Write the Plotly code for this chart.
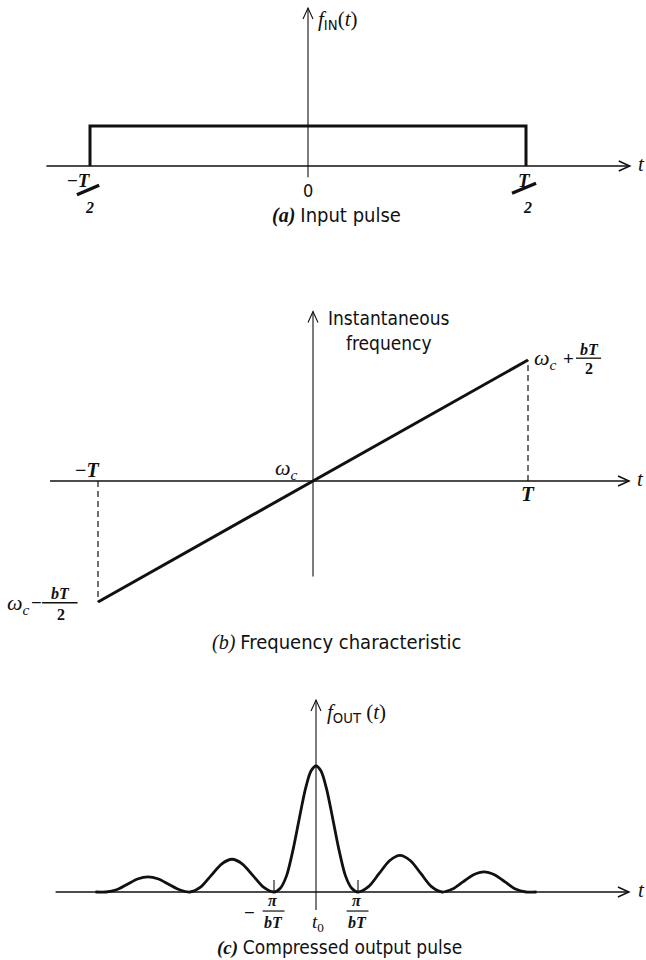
import plotly.graph_objects as go

W, H = 646, 960

# (a) input pulse f_IN(t); t in units of T
pulse_t = [-0.5, -0.5, 0.5, 0.5]
pulse_f = [0.0, 1.0, 1.0, 0.0]

# (b) instantaneous frequency minus w_c (units of bT/2) against t (units of T)
freq_t = [-1.0, 0.0, 1.0]
freq_w = [-1.0, 0.0, 1.0]

# (c) compressed output pulse; (t - t0) in units of pi/(bT), amplitude relative to peak
out_t = [-5.25, -5.0, -4.75, -4.5, -4.25, -4.0, -3.75, -3.5, -3.25, -3.0,
         -2.75, -2.5, -2.25, -2.0, -1.75, -1.5, -1.25, -1.0,
         -0.85, -0.7, -0.55, -0.4, -0.25, -0.12, 0.0, 0.12, 0.25, 0.4, 0.55, 0.7, 0.85,
         1.0, 1.25, 1.5, 1.75, 2.0, 2.25, 2.5, 2.75, 3.0,
         3.25, 3.5, 3.75, 4.0, 4.25, 4.5, 4.75, 5.0, 5.25]
out_f = [0.0, 0.0, 0.018, 0.06, 0.103, 0.12, 0.103, 0.06, 0.018, 0.0,
         0.038, 0.13, 0.222, 0.26, 0.222, 0.13, 0.038, 0.0,
         0.03, 0.13, 0.33, 0.58, 0.82, 0.96, 1.0, 0.96, 0.82, 0.58, 0.33, 0.13, 0.03,
         0.0, 0.042, 0.145, 0.248, 0.29, 0.248, 0.145, 0.042, 0.0,
         0.023, 0.08, 0.137, 0.16, 0.137, 0.08, 0.023, 0.0, 0.0]
zero_ticks = [-1.0, 1.0]

SERIF = "Liberation Serif, Times New Roman, serif"
SANS = "Liberation Sans Narrow, DejaVu Sans Condensed, Liberation Sans, sans-serif"
INK = "#111111"

# pixel scale (origin x, origin y, px per x unit, px per y unit) and vertical band of each panel
PANELS = {
    "": (308, 166, 436, 40, 0, 250),
    "2": (313, 481, 215, 121, 290, 665),
    "3": (316, 892, 42, 126, 680, 960),
}


def frame(ox, oy, sx, sy, top, bottom):
    """Axis ranges/domain so that one data unit spans sx, sy pixels."""
    xr = [(0 - ox) / sx, (W - ox) / sx]
    yr = [(oy - bottom) / sy, (oy - top) / sy]
    dom = [1 - bottom / H, 1 - top / H]
    return xr, yr, dom


xa, ya, da = frame(*PANELS[""])
xb, yb, db = frame(*PANELS["2"])
xc, yc, dc = frame(*PANELS["3"])

fig = go.Figure()
fig.add_trace(go.Scatter(x=pulse_t, y=pulse_f, mode="lines", xaxis="x", yaxis="y",
                         line=dict(color=INK, width=3), hoverinfo="skip"))
fig.add_trace(go.Scatter(x=freq_t, y=freq_w, mode="lines", xaxis="x2", yaxis="y2",
                         line=dict(color=INK, width=3), hoverinfo="skip"))
fig.add_trace(go.Scatter(x=out_t, y=out_f, mode="lines", xaxis="x3", yaxis="y3",
                         line=dict(color=INK, width=2.8, shape="spline", smoothing=0.8),
                         hoverinfo="skip"))

shapes = []
ann = []


def seg(ref, x0, y0, x1, y1, w=1.2, dash="solid"):
    shapes.append(dict(type="line", xref="x" + ref, yref="y" + ref, x0=x0, y0=y0,
                       x1=x1, y1=y1, line=dict(color=INK, width=w, dash=dash)))


def axis_arrow(ref, x0, y0, x1, y1, w=1.3, head=11, spread=5):
    """Axis line with an open V head at (x1, y1)."""
    seg(ref, x0, y0, x1, y1, w=w)
    sx, sy = PANELS[ref][2], PANELS[ref][3]
    if y0 == y1:  # horizontal, pointing right
        a = (x1 - head / sx, y1 + spread / sy)
        b = (x1 - head / sx, y1 - spread / sy)
    else:  # vertical, pointing up
        a = (x1 - spread / sx, y1 - head / sy)
        b = (x1 + spread / sx, y1 - head / sy)
    path = "M %f,%f L %f,%f L %f,%f" % (a[0], a[1], x1, y1, b[0], b[1])
    shapes.append(dict(type="path", xref="x" + ref, yref="y" + ref, path=path,
                       line=dict(color=INK, width=w)))


def label(ref, x, y, text, size=18, family=SERIF, xs=0, ys=0, xanchor="center"):
    ann.append(dict(xref="x" + ref, yref="y" + ref, x=x, y=y, text=text, showarrow=False,
                    xshift=xs, yshift=ys, xanchor=xanchor, yanchor="middle",
                    font=dict(family=family, size=size, color=INK)))


def sans(s):
    return "<span style='font-family:%s'>%s</span>" % (SANS, s)


# ---- (a) input pulse ----
axis_arrow("", -0.60, 0, 0.738, 0, w=1.5)
axis_arrow("", 0, -0.28, 0, 3.95, w=1.1)
label("", 0, 3.65, "<i>f</i><sub>" + sans("IN") + "</sub>(<i>t</i>)", size=21, xs=8, xanchor="left")
label("", 0.764, 0, "<i>t</i>", size=21, ys=2)
label("", 0, 0, sans("0"), size=18, ys=-24)
label("", -0.5, 0, "<b>−<i>T</i></b>", size=19, xs=-11, ys=-14)
seg("", -0.530, -0.72, -0.479, -0.48, w=3.4)
label("", -0.5, 0, "<b><i>2</i></b>", size=16, xs=-1, ys=-41)
label("", 0.5, 0, "<b><i>T</i></b>", size=19, xs=-2, ys=-14)
seg("", 0.468, -0.68, 0.523, -0.43, w=3.4)
label("", 0.5, 0, "<b><i>2</i></b>", size=16, xs=1, ys=-41)
label("", 0.066, 0, "<b><i>(a)</i></b> " + sans("Input pulse"), size=20, ys=-49)

# ---- (b) frequency characteristic ----
axis_arrow("2", -1.223, 0, 1.47, 0, w=1.5)
axis_arrow("2", 0, -0.79, 0, 1.40, w=1.1)
seg("2", -1, 0, -1, -1, w=1.2, dash="6px,4px")
seg("2", 1, 0, 1, 1, w=1.2, dash="6px,4px")
label("2", 1.523, 0, "<i>t</i>", size=21, ys=2)
label("2", 0, 1.24, sans("Instantaneous<br>frequency"), size=19, family=SANS, xs=76)
label("2", -1, 0, "<b>−<i>T</i></b>", size=20, xs=-11, ys=11)
label("2", 0, 0, "<i>ω<sub>c</sub></i>", size=22, xs=-27, ys=12)
label("2", 1, 0, "<b><i>T</i></b>", size=21, ys=-13)
label("2", 1, 1, "<i>ω<sub>c</sub></i>", size=22, xs=17, ys=1)
label("2", 1, 1, "<b>+</b>", size=19, xs=40, ys=1)
label("2", 1, 1, "<b><i>bT</i></b>", size=16, xs=61, ys=10)
seg("2", 1.223, 1.015, 1.340, 1.015, w=1.3)
label("2", 1, 1, "<b>2</b>", size=16, xs=61, ys=-9)
label("2", -1, -1, "<i>ω<sub>c</sub></i>", size=22, xs=-80, ys=-2)
label("2", -1, -1, "<b>−</b>", size=19, xs=-62, ys=0)
label("2", -1, -1, "<b><i>bT</i></b>", size=16, xs=-38, ys=9)
seg("2", -1.260, -1.006, -1.095, -1.006, w=1.3)
label("2", -1, -1, "<b>2</b>", size=16, xs=-37, ys=-12)
label("2", 0.11, 0, "<i>(b)</i> " + sans("Frequency characteristic"), size=20, ys=-161)

# ---- (c) compressed output pulse ----
axis_arrow("3", -6.2, 0, 7.45, 0, w=1.5)
axis_arrow("3", 0, -0.143, 0, 1.524, w=1.1)
for zt in zero_ticks:
    seg("3", zt, 0, zt, 0.095, w=1.1)
label("3", 7.74, 0, "<i>t</i>", size=21, ys=2)
label("3", 0, 1.42, "<i>f</i><sub>" + sans("OUT") + "</sub> (<i>t</i>)", size=21, xs=9, xanchor="left")
for zt in zero_ticks:
    label("3", zt, 0, "<b><i>π</i></b>", size=16, xs=-1, ys=-8)
    seg("3", zt - 0.27, -0.151, zt + 0.25, -0.151, w=1.2)
    label("3", zt, 0, "<b><i>bT</i></b>", size=16, xs=-1, ys=-30)
label("3", -1, 0, "<b>−</b>", size=19, xs=-25, ys=-20)
label("3", 0, 0, "<i>t</i><sub>0</sub>", size=19, xs=2, ys=-31)
label("3", 0.57, 0, "<b><i>(c)</i></b> " + sans("Compressed output pulse"), size=19, ys=-55)

hidden = dict(visible=False, fixedrange=True)
fig.update_layout(
    width=W, height=H, margin=dict(l=0, r=0, t=0, b=0),
    paper_bgcolor="white", plot_bgcolor="white", showlegend=False,
    xaxis=dict(range=xa, domain=[0, 1], anchor="y", **hidden),
    yaxis=dict(range=ya, domain=da, anchor="x", **hidden),
    xaxis2=dict(range=xb, domain=[0, 1], anchor="y2", **hidden),
    yaxis2=dict(range=yb, domain=db, anchor="x2", **hidden),
    xaxis3=dict(range=xc, domain=[0, 1], anchor="y3", **hidden),
    yaxis3=dict(range=yc, domain=dc, anchor="x3", **hidden),
    shapes=shapes, annotations=ann,
)

fig.write_html("out.html")
